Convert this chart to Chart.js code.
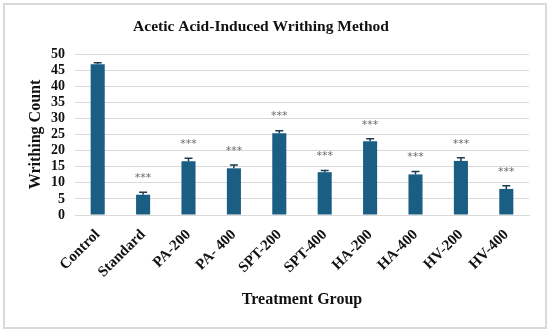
<!DOCTYPE html>
<html>
<head>
<meta charset="utf-8">
<script src="https://cdn.jsdelivr.net/npm/chart.js@4/dist/chart.umd.min.js"></script>
<style>
	body { margin: 0; background: #fff; }
	#wrap { position: relative; width: 550px; height: 333px; }
	#frame { position: absolute; left: 3px; top: 3px; width: 540px; height: 322px; border: 2px solid #d9d9d9; }
	#chart { position: absolute; left: 0; top: 0; }
</style>
</head>
<body>
<div id="wrap">
	<div id="frame"></div>
	<canvas id="chart" width="550" height="333"></canvas>
</div>
<script>
// values
const groups = ["Control", "Standard", "PA-200", "PA- 400", "SPT-200", "SPT-400", "HA-200", "HA-400", "HV-200", "HV-400"]
const writhing = [46.8, 6.3, 16.7, 14.5, 25.4, 13.3, 22.9, 12.6, 16.8, 8.1]
const sem = [0.5, 0.8, 0.9, 1.0, 0.8, 0.5, 0.8, 0.9, 1.0, 1.0]
const marks = ["", "***", "***", "***", "***", "***", "***", "***", "***", "***"]

const serif = "'Liberation Serif', 'DejaVu Serif', serif"
const barColor = "#1a5e84"

// error bars + significance stars
const errorBars = {
	id: "errorBars",
	afterDatasetsDraw(chart) {
		const ctx = chart.ctx
		const y = chart.scales.y
		const meta = chart.getDatasetMeta(0)
		ctx.save()
		meta.data.forEach((bar, i) => {
			const top = y.getPixelForValue(writhing[i] + sem[i])
			const base = y.getPixelForValue(writhing[i])
			ctx.strokeStyle = "#1b3c52"
			ctx.lineWidth = 1.5
			ctx.beginPath()
			ctx.moveTo(bar.x, base)
			ctx.lineTo(bar.x, top)
			ctx.moveTo(bar.x - 4, top)
			ctx.lineTo(bar.x + 4, top)
			ctx.stroke()
			if (marks[i]) {
				ctx.fillStyle = "#6b6b6b"
				ctx.font = "11px 'DejaVu Sans', sans-serif"
				ctx.textAlign = "center"
				ctx.textBaseline = "middle"
				ctx.fillText(marks[i], bar.x, top - 14)
			}
		})
		ctx.restore()
	}
}

// title drawn where the original sits
const topTitle = {
	id: "topTitle",
	afterDraw(chart) {
		const ctx = chart.ctx
		ctx.save()
		ctx.fillStyle = "#111"
		ctx.font = "bold 15.5px " + serif
		ctx.textAlign = "center"
		ctx.textBaseline = "middle"
		ctx.fillText("Acetic Acid-Induced Writhing Method", 261, 27)
		ctx.restore()
	}
}

const chart = new Chart("chart", {
	type: "bar",
	data: {
		labels: groups,
		datasets: [{
			data: writhing,
			backgroundColor: barColor,
			barPercentage: 0.62,
			categoryPercentage: 0.5
		}]
	},
	options: {
		responsive: false,
		animation: false,
		layout: { padding: { left: 8, right: 21, top: 54, bottom: 10 } },
		plugins: {
			legend: { display: false },
			tooltip: { enabled: false }
		},
		scales: {
			x: {
				grid: { display: false, drawTicks: false },
				border: { color: "#d9d9d9", width: 1 },
				ticks: {
					color: "#111",
					font: { family: serif, size: 15, weight: "bold" },
					minRotation: 45,
					maxRotation: 45,
					padding: 11
				},
				title: {
					display: true,
					text: "Treatment Group",
					color: "#111",
					font: { family: serif, size: 16, weight: "bold" },
					padding: { top: 0, bottom: 14 }
				},
				afterFit(scale) { scale.height = 333 - 215 - 10 }
			},
			y: {
				min: 0,
				max: 50,
				grid: { color: "#d9d9d9", lineWidth: 1, drawTicks: false },
				border: { display: false },
				ticks: {
					stepSize: 5,
					autoSkip: false,
					color: "#111",
					font: { family: serif, size: 14, weight: "bold" },
					padding: 10
				},
				title: {
					display: true,
					text: "Writhing Count",
					color: "#111",
					font: { family: serif, size: 16, weight: "bold" },
					padding: { top: 18, bottom: 0 }
				},
				afterFit(scale) { scale.width = 75 - 8 }
			}
		}
	},
	plugins: [errorBars, topTitle]
})
</script>
</body>
</html>
